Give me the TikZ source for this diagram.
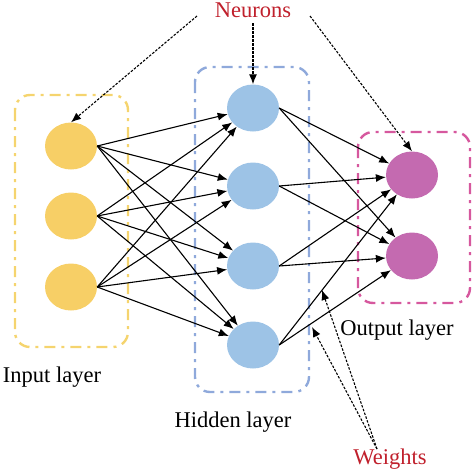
\documentclass[tikz,border=0pt]{standalone}
\usepackage{fontspec}
\setmainfont{Liberation Serif}
\newfontfamily\capfont{Liberation Serif}
\usepackage{tikz}
\usetikzlibrary{shapes.geometric, arrows.meta}

\definecolor{inyellow}{HTML}{F7CF66}
\definecolor{hidblue}{HTML}{9DC3E6}
\definecolor{outpink}{HTML}{C46AB0}
\definecolor{boxyellow}{HTML}{F5D46E}
\definecolor{boxblue}{HTML}{8FA9DB}
\definecolor{boxpink}{HTML}{D6589E}
\definecolor{labelred}{HTML}{C0202C}

\begin{document}
\begin{tikzpicture}[x=1pt, y=-1pt,
        neuron/.style={ellipse, minimum width=52pt, minimum height=47pt, inner sep=0pt},
        layerbox/.style={line width=2.4pt, rounded corners=15pt, dash pattern=on 11pt off 6pt on 3pt off 6pt},
        weight/.style={line width=1.1pt, -{Latex[length=10pt,width=8pt]}},
        pointer/.style={line width=1.1pt, dash pattern=on 2.5pt off 1.5pt, -{Latex[length=10pt,width=8pt]}},
        caption/.style={font=\capfont\fontsize{22.5}{26}\selectfont, inner sep=0pt}]
        \useasboundingbox (0,0) rectangle (474,472);

        % Draw the layer boxes
        \draw[layerbox, boxyellow] (15,95) rectangle (128,347);
        \draw[layerbox, boxblue] (195,67) rectangle (309,392);
        \draw[layerbox, boxpink] (358,132) rectangle (470,303);

        % Draw the neurons
        \foreach \i/\y in {1/146, 2/216, 3/287} {
            \node[neuron, fill=inyellow] (i\i) at (71,\y) {};
        }
        \foreach \j/\y in {1/108, 2/186, 3/266, 4/345} {
            \node[neuron, fill=hidblue] (h\j) at (253,\y) {};
        }
        \foreach \k/\y in {1/175, 2/256} {
            \node[neuron, fill=outpink] (o\k) at (412,\y) {};
        }

        % Draw the weights
        \foreach \i in {1,2,3} {
            \foreach \j in {1,2,3,4} {
                \draw[weight] (i\i.east) -- (h\j);
            }
        }
        \foreach \j in {1,2,3,4} {
            \foreach \k in {1,2} {
                \draw[weight] (h\j.east) -- (o\k);
            }
        }

        % Label the layers
        \node[caption] (inlabel) at (52,377) {Input layer};
        \node[caption] (hidlabel) at (233,422) {Hidden layer};
        \node[caption] (outlabel) at (397,330) {Output layer};

        % Neurons pointers
        \node[caption, text=labelred] (neurons) at (253,10) {Neurons};
        \coordinate (nl) at (197,16);
        \coordinate (nm) at (253,23);
        \coordinate (nr) at (310,16);
        \draw[pointer] (nl) -- (i1.north);
        \draw[pointer] (nm) -- (h1.north);
        \draw[pointer] (nr) -- (o1.north);

        % Weights pointers
        \node[caption, text=labelred] (weights) at (390,459) {Weights};
        \coordinate (wb) at (377,449);
        \coordinate (w1) at (322,290);
        \coordinate (w2) at (312,327);
        \draw[pointer] (wb) -- (w1);
        \draw[pointer] (wb) -- (w2);
    \end{tikzpicture}
\end{document}
